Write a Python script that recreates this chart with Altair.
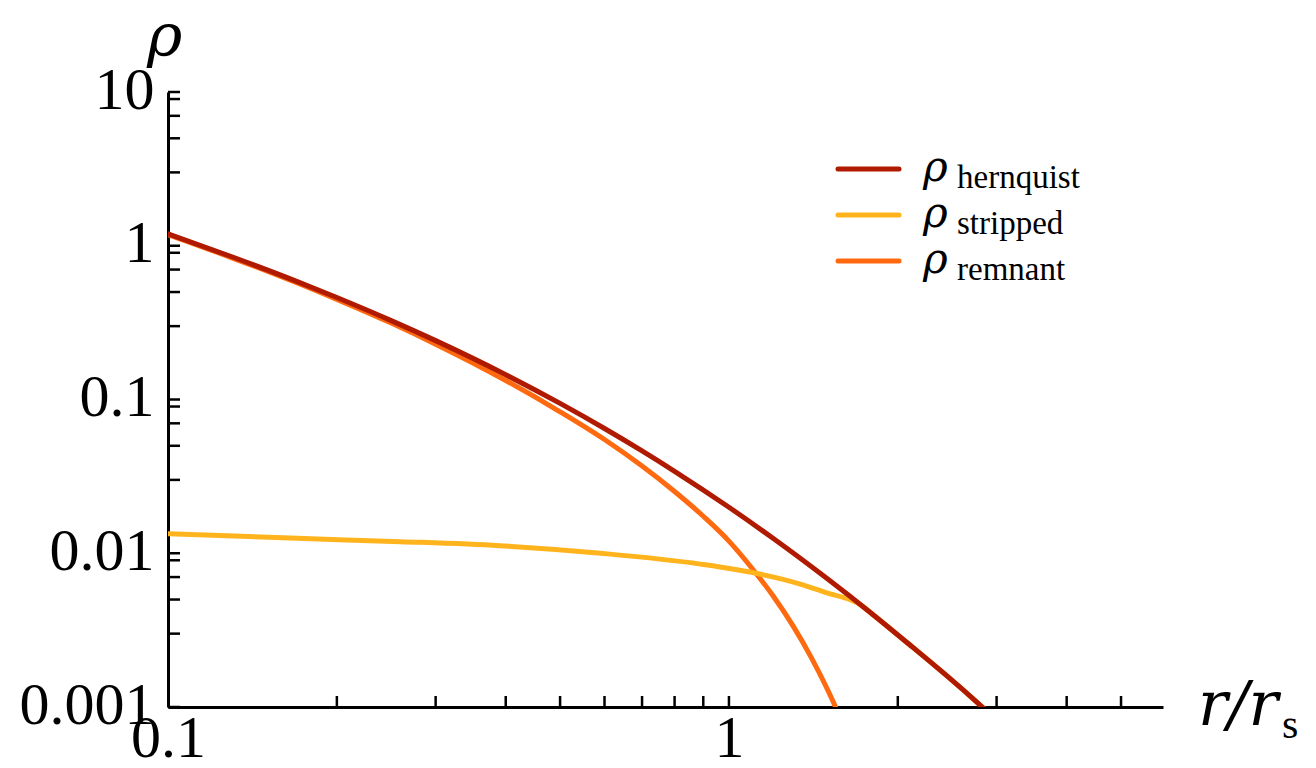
import altair as alt
import pandas as pd

# ---------------- data ----------------
hern_x = [0.1, 0.13, 0.17, 0.2, 0.25, 0.3, 0.4, 0.5, 0.6, 0.7, 0.8, 1.0, 1.2, 1.5, 1.8, 2.1, 2.4, 2.7, 2.9]
hern_y = [1.196, 0.848, 0.585, 0.4605, 0.326, 0.2415, 0.145, 0.0943, 0.0648, 0.0463, 0.0341, 0.0199,
          0.01246, 0.00679, 0.00403, 0.00254, 0.00169, 0.001164, 0.00092]

strip_x = [0.1, 0.17, 0.26, 0.39, 0.59, 0.89, 1.14, 1.34, 1.5, 1.64, 1.72, 1.8, 2.1, 2.4, 2.7, 2.9]
strip_y = [0.0134, 0.0125, 0.0119, 0.0112, 0.0100, 0.0085, 0.0073, 0.0063, 0.0055, 0.0050, 0.0046,
           0.00403, 0.00254, 0.00169, 0.001164, 0.00092]

rem_x = [0.1, 0.13, 0.17, 0.2, 0.25, 0.3, 0.4, 0.5, 0.6, 0.7, 0.8, 0.9, 1.0, 1.1, 1.2, 1.3, 1.4, 1.5, 1.545, 1.56]
rem_y = [1.183, 0.835, 0.572, 0.448, 0.314, 0.229, 0.133, 0.0832, 0.0549, 0.0369, 0.0252, 0.0174,
         0.0120, 0.00796, 0.00525, 0.00338, 0.00212, 0.00129, 0.00102, 0.00094]

series_names = ["hernquist", "stripped", "remnant"]
series_colors = ["#B01A00", "#FFB41E", "#FF6A10"]

x_major = [0.1, 1]
x_minor = [0.2, 0.3, 0.4, 0.5, 0.6, 0.7, 0.8, 0.9, 1, 2, 3, 4, 5]
y_major = [0.001, 0.01, 0.1, 1, 10]
y_minor = [0.001, 0.003, 0.005, 0.007, 0.009,
           0.01, 0.03, 0.05, 0.07, 0.09,
           0.1, 0.3, 0.5, 0.7, 0.9,
           1, 3, 5, 7, 9, 10]

X_DOMAIN = [0.1, 5.94]
Y_DOMAIN = [0.001, 10]

# ---------------- layout ----------------
W, H = 995, 615
FONT = "Liberation Serif"
IFONT = "DejaVu Serif"

xs = alt.Scale(type="log", domain=X_DOMAIN, nice=False)
ys = alt.Scale(type="log", domain=Y_DOMAIN, nice=False)

xaxis = alt.Axis(values=x_major, format="~g", title=None, grid=False, ticks=False,
                 labelFont=FONT, labelFontSize=60, labelColor="black", labelPadding=2,
                 domainColor="black", domainWidth=3, labelFlush=False)
yaxis = alt.Axis(values=y_major, format="~g", title=None, grid=False, ticks=False,
                 labelFont=FONT, labelFontSize=60, labelColor="black", labelPadding=14,
                 domainColor="black", domainWidth=3, labelFlush=False, labelOffset=-2)


def curve(xv, yv, name, color):
    df = pd.DataFrame({"r": xv, "rho": yv, "series": name})
    return alt.Chart(df).mark_line(color=color, strokeWidth=5, clip=True,
                                   interpolate="monotone", strokeCap="round").encode(
        x=alt.X("r:Q", scale=xs, axis=xaxis),
        y=alt.Y("rho:Q", scale=ys, axis=yaxis),
    )


layers = []
# draw order: remnant, stripped, hernquist on top
layers.append(curve(rem_x, rem_y, series_names[2], series_colors[2]))
layers.append(curve(strip_x, strip_y, series_names[1], series_colors[1]))
layers.append(curve(hern_x, hern_y, series_names[0], series_colors[0]))

# inward ticks
ytick = alt.Chart(pd.DataFrame({"v": y_minor})).mark_rule(color="black", strokeWidth=2.5).encode(
    y=alt.Y("v:Q", scale=ys, axis=yaxis), x=alt.value(0), x2=alt.value(12))
xtick = alt.Chart(pd.DataFrame({"v": x_minor})).mark_rule(color="black", strokeWidth=2.5).encode(
    x=alt.X("v:Q", scale=xs, axis=xaxis), y=alt.value(H), y2=alt.value(H - 11))
layers += [ytick, xtick]


def label(text, x, y, size, italic=True, align="left", font=None):
    return alt.Chart(pd.DataFrame({"t": [text]})).mark_text(
        font=font or (IFONT if italic else FONT), fontSize=size,
        fontStyle="italic" if italic else "normal",
        align=align, baseline="alphabetic", color="black").encode(
        x=alt.value(x), y=alt.value(y), text="t:N")


# axis titles
layers.append(label("ρ", -21, -36, 60))
layers.append(label("r/r", 1030, 633, 62))
layers.append(label("s", 1114, 646, 42, italic=False))

# legend
leg_x0, leg_x1 = 670, 731
leg_y0, leg_dy = 77, 46
for i, (name, color) in enumerate(zip(series_names, series_colors)):
    yy = leg_y0 + i * leg_dy
    layers.append(alt.Chart(pd.DataFrame({"s": [name]})).mark_rule(
        color=color, strokeWidth=5, strokeCap="round").encode(
        x=alt.value(leg_x0), x2=alt.value(leg_x1), y=alt.value(yy)))
    layers.append(label("ρ", 755, yy + 12, 42))
    layers.append(label(name, 789, yy + 19, 33, italic=False))

chart = alt.layer(*layers).properties(
    width=W, height=H,
    autosize=alt.AutoSizeParams(type="none"),
    padding={"left": 168, "top": 92, "right": 153, "bottom": 61},
    background="white",
).configure_view(stroke=None)

chart.save("out.html", embed_options={"renderer": "svg", "actions": False})
